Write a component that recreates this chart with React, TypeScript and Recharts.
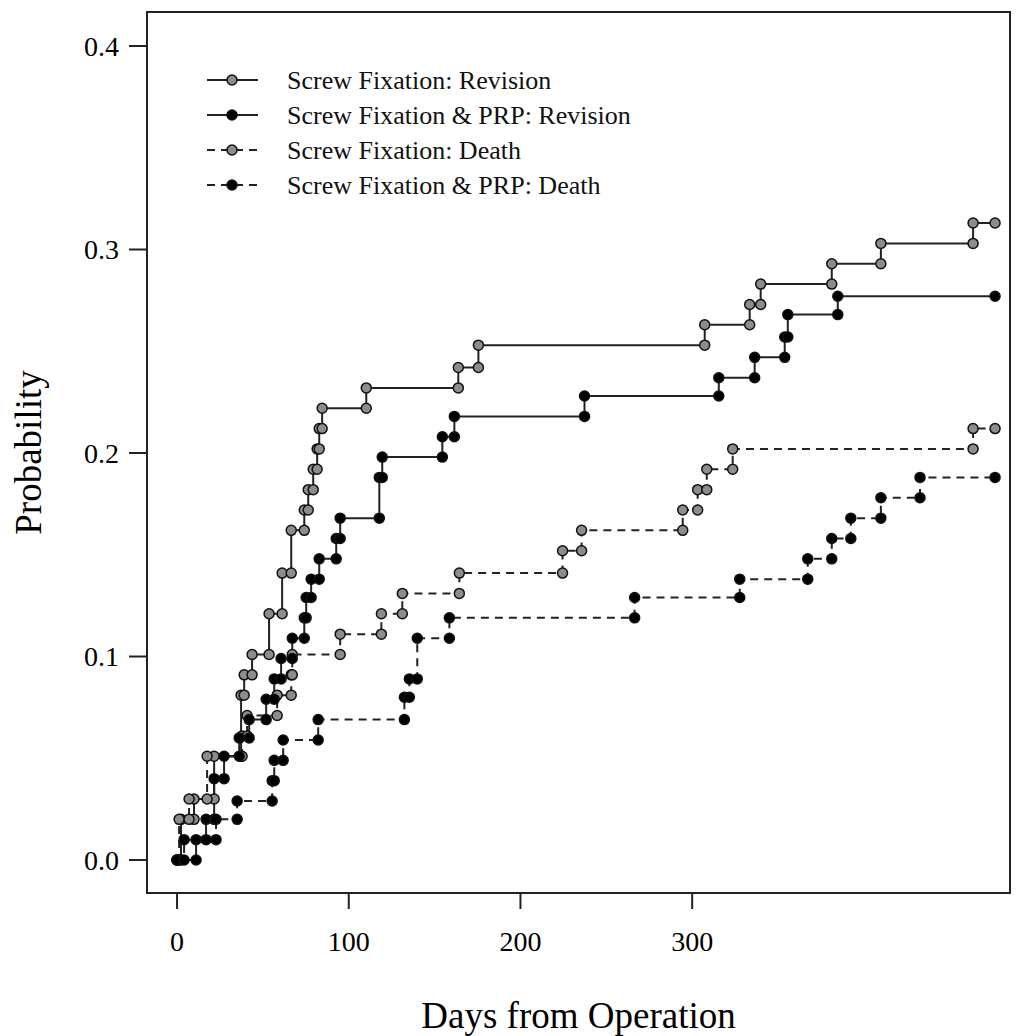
import { LineChart, Line, XAxis, YAxis, ReferenceArea, Legend, Label } from "recharts";

// cumulative incidence: day of each jump and level after it
const sfRevisionDays = [2.3, 9.9, 21.6, 37.3, 39.1, 43.7, 53.6, 61.2, 66.5, 74.1, 76.4, 79.3, 81.6, 82.8, 84.5, 110.2, 163.8, 175.5, 307.3, 333.5, 339.9, 381.3, 409.9, 463.6];
const sfRevisionProb = [0.02, 0.03, 0.051, 0.081, 0.091, 0.101, 0.121, 0.141, 0.162, 0.172, 0.182, 0.192, 0.202, 0.212, 0.222, 0.232, 0.242, 0.253, 0.263, 0.273, 0.283, 0.293, 0.303, 0.313];

const prpRevisionDays = [11.1, 16.9, 21.6, 27.4, 36.2, 42.0, 51.9, 56.6, 60.6, 67.1, 74.1, 75.2, 78.1, 82.8, 92.7, 95.0, 117.8, 119.5, 154.5, 161.5, 237.3, 315.5, 336.4, 353.9, 355.7, 384.8];
const prpRevisionProb = [0.01, 0.02, 0.04, 0.051, 0.06, 0.069, 0.079, 0.089, 0.099, 0.109, 0.119, 0.129, 0.138, 0.148, 0.158, 0.168, 0.188, 0.198, 0.208, 0.218, 0.228, 0.237, 0.247, 0.257, 0.268, 0.277];

const sfDeathDays = [1.2, 7.0, 17.5, 37.9, 40.8, 58.3, 66.5, 67.1, 95.0, 119.0, 131.2, 164.4, 224.5, 235.6, 294.5, 303.2, 308.5, 323.6, 463.6];
const sfDeathProb = [0.02, 0.03, 0.051, 0.061, 0.071, 0.081, 0.091, 0.101, 0.111, 0.121, 0.131, 0.141, 0.152, 0.162, 0.172, 0.182, 0.192, 0.202, 0.212];

const prpDeathDays = [4.1, 22.7, 35.0, 55.4, 56.6, 61.8, 82.2, 132.4, 135.3, 139.9, 158.6, 266.5, 327.7, 367.3, 381.3, 392.4, 409.9, 432.7];
const prpDeathProb = [0.01, 0.02, 0.029, 0.039, 0.049, 0.059, 0.069, 0.08, 0.089, 0.109, 0.119, 0.129, 0.138, 0.148, 0.158, 0.168, 0.178, 0.188];

const lastDay = 476.4;

const xTicks = [0, 100, 200, 300];
const yTicks = [0, 0.1, 0.2, 0.3, 0.4];
const xDomain = [-17.5, 485.1];
const yDomain = [-0.0162, 0.4167];

const FONT = "'Liberation Serif', 'Times New Roman', serif";
const GRAY = "#8c8c8c";
const DASH = "8 6";

// staircase with a point at both corners of every jump, like the R plot
function staircase(days: number[], probs: number[]) {
  const pts = [{ day: 0, p: 0 }];
  let prev = 0;
  days.forEach((d, i) => {
    pts.push({ day: d, p: prev });
    pts.push({ day: d, p: probs[i] });
    prev = probs[i];
  });
  pts.push({ day: lastDay, p: prev });
  return pts;
}

const series = [
  { name: "Screw Fixation: Revision", data: staircase(sfRevisionDays, sfRevisionProb), fill: GRAY, dash: undefined },
  { name: "Screw Fixation & PRP: Revision", data: staircase(prpRevisionDays, prpRevisionProb), fill: "#000", dash: undefined },
  { name: "Screw Fixation: Death", data: staircase(sfDeathDays, sfDeathProb), fill: GRAY, dash: DASH },
  { name: "Screw Fixation & PRP: Death", data: staircase(prpDeathDays, prpDeathProb), fill: "#000", dash: DASH },
];

// gray ones first so the black markers sit on top
const drawOrder = [0, 2, 1, 3];

const renderLegend = () => (
  <svg width={460} height={150} style={{ fontFamily: FONT }}>
    {series.map((s, i) => (
      <g key={s.name} transform={`translate(0, ${i * 35})`}>
        <line x1={7} x2={58} y1={19} y2={19} stroke="#222" strokeWidth={2} strokeDasharray={s.dash} />
        <circle cx={32} cy={19} r={5} fill={s.fill} stroke="#111" strokeWidth={1.5} />
        <text x={87} y={19} dominantBaseline="central" fontSize={26} fill="#111">
          {s.name}
        </text>
      </g>
    ))}
  </svg>
);

export default function App() {
  return (
    <div style={{ position: "absolute", left: 0, top: 0, width: 1029, height: 1036, background: "#fff", fontFamily: FONT }}>
      <LineChart width={1029} height={1036} margin={{ top: 12, right: 19, bottom: 0, left: 0 }}>
        <XAxis
          type="number"
          dataKey="day"
          domain={xDomain}
          allowDataOverflow
          ticks={xTicks}
          interval={0}
          height={143}
          axisLine={false}
          tickSize={16}
          tickMargin={22}
          tickLine={{ stroke: "#222", strokeWidth: 2 }}
          tick={{ fontSize: 28, fill: "#000", fontFamily: FONT }}
        >
          <Label
            content={({ viewBox }: any) => (
              <text x={viewBox.x + viewBox.width / 2} y={viewBox.y + 135} textAnchor="middle" fontSize={37} fontFamily={FONT} fill="#000">
                Days from Operation
              </text>
            )}
          />
        </XAxis>
        <YAxis
          type="number"
          dataKey="p"
          domain={yDomain}
          allowDataOverflow
          ticks={yTicks}
          interval={0}
          width={147}
          axisLine={false}
          tickSize={18}
          tickMargin={10}
          tickFormatter={(v: number) => v.toFixed(1)}
          tickLine={{ stroke: "#222", strokeWidth: 2 }}
          tick={{ fontSize: 28, fill: "#000", fontFamily: FONT }}
        >
          <Label
            content={({ viewBox }: any) => {
              const cx = viewBox.x + 28;
              const cy = viewBox.y + viewBox.height / 2;
              return (
                <text x={cx} y={cy} transform={`rotate(-90 ${cx} ${cy})`} textAnchor="middle" dominantBaseline="central" fontSize={37} fontFamily={FONT} fill="#000">
                  Probability
                </text>
              );
            }}
          />
        </YAxis>
        <ReferenceArea x1={xDomain[0]} x2={xDomain[1]} y1={yDomain[0]} y2={yDomain[1]} fill="none" stroke="#222" strokeWidth={2} />
        <Legend
          layout="horizontal"
          verticalAlign="middle"
          align="center"
          content={renderLegend}
          wrapperStyle={{ left: 200, top: 61, width: 460, height: 150 }}
        />
        {drawOrder.map((i) => {
          const s = series[i];
          return (
            <Line
              key={s.name}
              data={s.data}
              dataKey="p"
              name={s.name}
              type="linear"
              stroke="#222"
              strokeWidth={2}
              strokeDasharray={s.dash}
              dot={{ r: 5, fill: s.fill, stroke: "#111", strokeWidth: 1.5, strokeDasharray: "none" }}
              activeDot={false}
              isAnimationActive={false}
            />
          );
        })}
      </LineChart>
    </div>
  );
}
